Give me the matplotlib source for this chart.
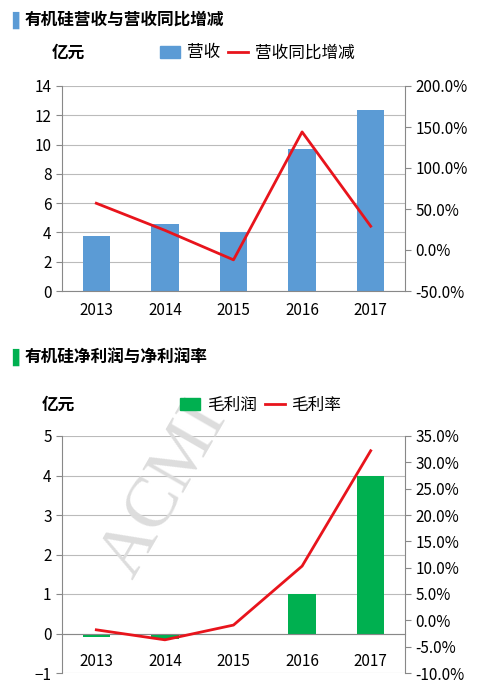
import matplotlib.pyplot as plt
from matplotlib.ticker import FuncFormatter
from matplotlib.patches import Patch
from matplotlib.lines import Line2D

plt.rcParams['font.family'] = ['Noto Sans CJK SC', 'DejaVu Sans']

years = ['2013', '2014', '2015', '2016', '2017']
revenue = [3.75, 4.55, 4.0, 9.7, 12.35]
revenue_yoy = [57, 24, -12, 144, 29]
profit = [-0.08, -0.15, -0.05, 1.0, 4.0]
margin = [-1.8, -3.7, -0.9, 10.3, 32.2]

W, H = 481, 691
fig = plt.figure(figsize=(W / 100, H / 100), dpi=100)
pct = FuncFormatter(lambda v, p: f'{v:.1f}%')
grey = '#888888'


def style(ax, ax2):
    for a in (ax, ax2):
        for s in a.spines.values():
            s.set_visible(False)
        a.tick_params(labelsize=11, color=grey, length=4)
    ax.spines['left'].set_visible(True)
    ax.spines['left'].set_color(grey)
    ax2.spines['right'].set_visible(True)
    ax2.spines['right'].set_color(grey)
    ax.spines['bottom'].set_visible(True)
    ax.spines['bottom'].set_color(grey)
    ax.grid(axis='y', color='#bbbbbb', lw=0.8)
    ax.set_axisbelow(True)
    ax.tick_params(axis='x', length=0, pad=8)


def rect(l, t, r, b):
    return [l / W, 1 - b / H, (r - l) / W, (b - t) / H]


# chart 1
fig.text(12 / W, 1 - 20 / H, '▌', color='#5b9bd5', fontsize=12, va='center', family='DejaVu Sans')
fig.text(25 / W, 1 - 20 / H, '有机硅营收与营收同比增减', fontsize=12, weight='bold', va='center')
ax = fig.add_axes(rect(62, 86, 405, 291))
ax2 = ax.twinx()
x = range(len(years))
ax.bar(x, revenue, width=0.4, color='#5b9bd5')
ax2.plot(x, revenue_yoy, color='#e8141c', lw=2)
ax.set_ylim(0, 14)
ax.set_yticks(range(0, 15, 2))
ax2.set_ylim(-50, 200)
ax2.set_yticks(range(-50, 201, 50))
ax2.yaxis.set_major_formatter(pct)
ax.set_xticks(list(x), years)
ax.set_xlim(-0.5, 4.5)
style(ax, ax2)
fig.text(52 / W, 1 - 53 / H, '亿元', fontsize=12, weight='bold', va='center')
fig.legend(handles=[Patch(color='#5b9bd5', label='营收'),
                    Line2D([], [], color='#e8141c', lw=2, label='营收同比增减')],
           loc='center left', bbox_to_anchor=(145 / W, 1 - 53 / H), ncol=2,
           frameon=False, fontsize=12, handlelength=1.2, columnspacing=0.5, handletextpad=0.4)

# chart 2
fig.text(12 / W, 1 - 357 / H, '▌', color='#00b050', fontsize=12, va='center', family='DejaVu Sans')
fig.text(25 / W, 1 - 357 / H, '有机硅净利润与净利润率', fontsize=12, weight='bold', va='center')
ax = fig.add_axes(rect(62, 436, 405, 673))
ax2 = ax.twinx()
ax.bar(x, profit, width=0.4, color='#00b050')
ax2.plot(x, margin, color='#e8141c', lw=2)
ax.set_ylim(-1, 5)
ax.set_yticks(range(-1, 6))
ax2.set_ylim(-10, 35)
ax2.set_yticks(range(-10, 36, 5))
ax2.yaxis.set_major_formatter(pct)
ax.set_xticks(list(x), years)
ax.set_xlim(-0.5, 4.5)
style(ax, ax2)
ax.spines['bottom'].set_position(('data', 0))
ax.tick_params(axis='x', pad=14)
fig.text(42 / W, 1 - 405 / H, '亿元', fontsize=12, weight='bold', va='center')
fig.legend(handles=[Patch(color='#00b050', label='毛利润'),
                    Line2D([], [], color='#e8141c', lw=2, label='毛利率')],
           loc='center left', bbox_to_anchor=(165 / W, 1 - 405 / H), ncol=2,
           frameon=False, fontsize=12, handlelength=1.2, columnspacing=0.5, handletextpad=0.4)
fig.text(165 / W, 1 - 490 / H, 'ACMI', fontsize=52, family='Liberation Serif', color='#dddddd',
         rotation=60, ha='center', va='center', zorder=0)

fig.savefig('out.png', dpi=100)
